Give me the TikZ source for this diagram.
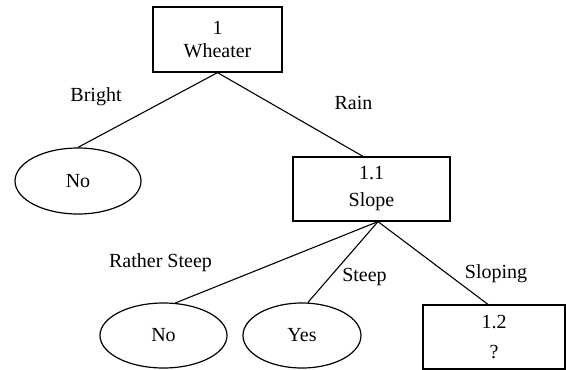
\documentclass[tikz,border=0pt]{standalone}
\usepackage{fontspec}
\setmainfont{Liberation Serif}
\usetikzlibrary{shapes.geometric,calc}
\begin{document}
\begin{tikzpicture}[x=1pt,y=-1pt,
  every node/.style={font=\fontsize{20}{23}\selectfont, inner sep=0pt},
  box/.style={draw, line width=1.2pt, rectangle, align=center},
  oval/.style={draw, line width=1.2pt, ellipse},
  edge/.style={line width=1.1pt},
  lbl/.style={anchor=base}]
\useasboundingbox (0,0) rectangle (566,370);
\node[box, minimum width=129, minimum height=65] (b1) at (217.5,39.5) {1\\Wheater};
\node[box, minimum width=157, minimum height=64] (b11) at (371.5,189) {1.1\\[4pt]Slope};
\node[box, minimum width=142, minimum height=64] (b12) at (494,337) {1.2\\[7pt]?};
\node[oval, minimum width=126, minimum height=66] (e1) at (78,181) {No};
\node[oval, minimum width=127, minimum height=65] (e2) at (163.5,335.5) {No};
\node[oval, minimum width=118, minimum height=65] (e3) at (302,335.5) {Yes};
\coordinate (b11s) at ($(b11.south)+(6.5,0)$);
\coordinate (b11n) at ($(b11.north)+(-8.5,0)$);
\coordinate (b12n) at ($(b12.north)+(-6,0)$);
\draw[edge] (b1.south) -- (e1.north);
\draw[edge] (b1.south) -- (b11n);
\draw[edge] (b11s) -- (e2.70);
\draw[edge] (b11s) -- (e3.80);
\draw[edge] (b11s) -- (b12n);
\node[lbl] (lb1) at (96,101.5) {Bright};
\node[lbl] (lb2) at (353.5,109.5) {Rain};
\node[lbl] (lb3) at (160.5,267) {Rather Steep};
\node[lbl] (lb4) at (364.5,281.5) {Steep};
\node[lbl] (lb5) at (496,278.5) {Sloping};
\end{tikzpicture}
\end{document}
